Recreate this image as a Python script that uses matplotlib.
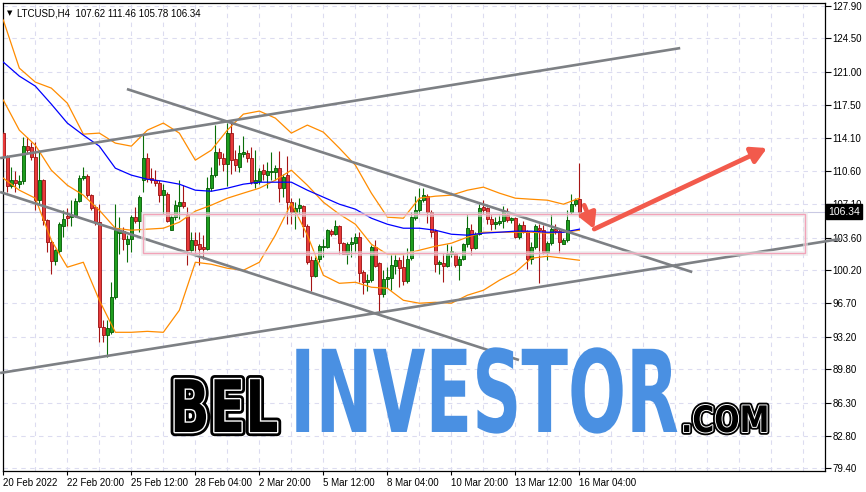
import numpy as np
import matplotlib
matplotlib.use("Agg")
import matplotlib.pyplot as plt
import matplotlib.patheffects as pe
from matplotlib.patches import Rectangle
from matplotlib.transforms import Affine2D, blended_transform_factory

# LTCUSD H4 candles, 20 Feb 04:00 -> 16 Mar 04:00
opens = [114.53, 112.05, 109.00, 109.63, 109.28, 109.53, 113.20, 113.13, 112.01, 107.60,
         109.63, 105.43, 103.15, 101.16, 102.21, 104.87, 105.85, 105.78, 105.96, 107.46,
         109.84, 110.02, 108.06, 106.83, 105.26, 94.23, 93.36, 93.71, 97.38, 104.10,
         104.28, 102.98, 103.47, 105.78, 105.36, 109.63, 111.91, 109.91, 109.63, 109.35,
         108.06, 108.23, 104.45, 105.78, 106.90, 107.36, 105.96, 102.28, 103.40, 102.91,
         102.63, 102.39, 108.76, 110.15, 112.61, 111.91, 111.38, 114.53, 111.80, 111.03,
         112.36, 112.43, 111.91, 109.35, 109.56, 110.75, 110.15, 110.50, 110.50, 110.96,
         108.86, 110.15, 107.36, 106.31, 106.66, 106.90, 104.80, 101.30, 99.55, 101.40,
         102.63, 102.63, 104.31, 104.03, 104.80, 103.05, 101.93, 102.91, 103.05, 103.68,
         100.00, 98.96, 99.13, 102.63, 100.95, 97.73, 99.30, 99.41, 100.60, 101.30,
         100.53, 99.06, 101.50, 105.71, 106.48, 107.53, 107.95, 106.31, 104.31, 100.81,
         100.95, 100.63, 101.93, 101.86, 100.70, 101.40, 102.91, 104.45, 102.56, 104.03,
         106.83, 106.66, 105.60, 105.01, 105.15, 105.36, 105.96, 105.43, 105.64, 103.68,
         104.90, 104.31, 101.40, 102.63, 104.66, 104.45, 102.10, 103.05, 104.56, 104.31,
         102.98, 103.33, 106.31, 107.11, 107.62]
highs = [114.71, 112.25, 111.03, 110.61, 110.15, 114.11, 114.11, 113.66, 113.66, 112.78,
         109.80, 105.60, 103.33, 102.46, 105.26, 106.48, 106.76, 107.53, 107.71, 110.15,
         111.03, 110.26, 108.23, 107.00, 107.18, 94.93, 94.93, 98.96, 107.11, 105.78,
         104.73, 103.86, 105.96, 106.83, 108.06, 114.36, 112.43, 110.86, 110.68, 109.70,
         109.28, 108.40, 105.96, 107.53, 109.63, 109.10, 106.83, 104.20, 104.20, 104.20,
         103.86, 109.98, 111.03, 115.40, 112.96, 112.43, 115.65, 115.86, 112.78, 113.31,
         114.25, 112.78, 113.13, 112.78, 110.86, 111.38, 111.56, 112.61, 111.20, 112.71,
         110.26, 112.15, 107.71, 107.36, 107.81, 107.00, 105.08, 101.65, 101.58, 102.98,
         103.50, 104.56, 104.56, 105.43, 104.90, 103.15, 103.15, 103.68, 104.10, 104.17,
         100.18, 99.83, 102.80, 103.40, 101.05, 100.18, 100.53, 101.86, 102.00, 101.58,
         101.93, 102.56, 106.31, 107.95, 108.76, 108.86, 108.16, 106.48, 104.56, 101.23,
         102.00, 102.98, 102.70, 102.10, 101.65, 103.05, 106.13, 105.01, 104.20, 107.18,
         107.53, 106.83, 106.13, 105.78, 105.96, 106.90, 106.76, 105.78, 105.78, 105.15,
         105.36, 104.38, 103.15, 105.08, 105.08, 104.90, 103.22, 106.06, 105.01, 104.56,
         103.61, 106.48, 108.23, 107.81, 111.46]
lows = [111.91, 108.40, 108.86, 108.40, 108.86, 109.28, 112.43, 111.73, 106.55, 107.18,
        104.90, 102.10, 99.76, 100.70, 102.00, 103.68, 104.80, 104.80, 105.78, 107.36,
        109.63, 107.88, 106.48, 104.90, 92.66, 92.66, 91.08, 93.53, 97.20, 101.93,
        102.28, 101.05, 102.10, 105.15, 104.20, 108.40, 109.46, 109.35, 109.00, 107.36,
        106.13, 105.26, 104.38, 105.50, 105.60, 106.76, 100.70, 101.86, 102.00, 100.70,
        101.40, 102.28, 108.51, 109.98, 111.20, 110.61, 109.00, 110.26, 110.61, 110.50,
        112.08, 111.56, 109.28, 108.86, 109.21, 109.63, 108.86, 109.63, 109.63, 107.36,
        107.88, 105.08, 105.01, 104.56, 106.13, 103.68, 100.88, 98.01, 99.48, 101.05,
        101.58, 102.56, 103.75, 103.86, 101.86, 101.86, 100.81, 101.58, 102.10, 98.96,
        97.73, 98.01, 98.96, 100.53, 95.70, 97.38, 98.36, 98.08, 99.83, 98.43,
        98.60, 98.85, 101.30, 105.50, 106.13, 107.36, 105.15, 103.68, 100.00, 99.76,
        98.96, 100.53, 101.58, 100.53, 99.13, 101.23, 102.63, 101.76, 102.46, 103.86,
        106.13, 105.08, 104.38, 104.56, 104.90, 104.66, 105.26, 105.15, 103.61, 103.50,
        104.10, 100.36, 100.88, 102.46, 98.85, 101.93, 101.23, 102.80, 104.03, 102.00,
        102.91, 103.15, 106.13, 106.90, 105.78]
closes = [112.08, 109.00, 109.63, 109.35, 109.53, 113.20, 112.78, 112.01, 107.60, 109.63,
          105.50, 103.15, 101.16, 102.28, 105.01, 105.57, 105.71, 105.96, 107.46, 109.91,
          110.02, 108.06, 106.76, 105.26, 94.23, 93.36, 94.16, 97.38, 104.38, 104.28,
          103.50, 103.47, 105.78, 105.36, 107.88, 111.91, 109.80, 109.63, 109.35, 108.06,
          108.65, 105.36, 105.78, 107.00, 107.36, 106.90, 102.28, 103.33, 102.80, 102.46,
          102.46, 108.76, 110.15, 112.61, 111.91, 111.38, 114.53, 111.73, 111.20, 112.43,
          112.57, 111.91, 109.46, 109.63, 110.61, 110.26, 110.58, 110.60, 110.96, 108.86,
          109.98, 107.36, 106.31, 106.76, 107.00, 104.80, 101.05, 99.55, 101.30, 102.70,
          102.70, 104.38, 104.03, 104.80, 103.05, 101.93, 102.91, 103.12, 103.68, 99.90,
          98.96, 99.20, 102.63, 100.60, 97.73, 99.30, 99.48, 100.70, 101.30, 100.46,
          99.06, 101.40, 105.78, 106.48, 107.60, 108.06, 106.31, 104.20, 100.81, 101.02,
          100.63, 101.93, 102.21, 100.70, 101.40, 102.91, 104.59, 102.56, 104.03, 106.76,
          106.55, 105.60, 105.01, 105.22, 105.36, 106.31, 105.43, 105.64, 103.68, 104.90,
          104.20, 101.40, 102.63, 104.80, 104.45, 102.10, 103.05, 104.56, 104.31, 103.15,
          103.33, 105.50, 107.11, 107.60, 106.34]

# indicator lines, read every 4th bar
band_idx = list(range(0, 145, 4))
bb_upper = [126.43, 121.39, 119.92, 119.29, 117.71, 114.46, 114.57, 113.52, 113.20, 114.88,
            115.62, 114.57, 111.73, 112.78, 114.88, 116.56, 116.88, 116.14, 114.57, 115.41,
            114.67, 112.99, 111.21, 108.27, 105.75, 105.64, 107.74, 107.95, 108.06, 108.58,
            108.90, 108.27, 107.74, 107.63, 107.53, 107.11, 107.74]
bb_middle = [118.03, 114.88, 113.30, 110.68, 109.10, 108.06, 106.48, 104.59, 104.38, 104.49,
             104.59, 105.22, 106.38, 107.01, 107.74, 108.27, 108.79, 109.63, 110.68, 109.10,
             107.32, 106.06, 105.01, 102.91, 101.86, 101.86, 102.28, 102.70, 103.02, 103.65,
             104.17, 104.17, 104.17, 104.17, 104.07, 104.17, 104.38]
bb_lower = [109.84, 108.58, 107.74, 103.33, 100.50, 101.02, 97.03, 93.67, 93.67, 93.77,
            93.67, 95.98, 101.02, 100.81, 100.39, 100.18, 101.02, 103.86, 107.22, 103.86,
            99.65, 98.81, 98.92, 98.40, 98.29, 97.03, 96.72, 96.82, 96.72, 97.56,
            98.08, 99.13, 99.97, 101.44, 101.65, 101.44, 101.23]
ma_slow = [122.02, 120.55, 119.50, 117.61, 115.62, 114.36, 113.20, 110.89, 110.16, 109.73,
           109.52, 109.21, 108.58, 108.47, 108.79, 109.21, 109.42, 109.42, 109.42, 108.58,
           107.85, 107.11, 106.59, 105.64, 105.01, 104.59, 104.59, 104.38, 103.96, 103.86,
           104.07, 104.17, 104.28, 104.28, 104.17, 104.17, 104.49]

price_ticks = [127.90, 124.50, 121.00, 117.50, 114.10, 110.60, 107.10, 103.60, 100.20,
               96.70, 93.20, 89.80, 86.30, 82.80, 79.40]
date_idx = [0, 16, 32, 48, 64, 80, 96, 112, 128, 144]
date_labels = ["20 Feb 2022", "22 Feb 20:00", "25 Feb 12:00", "28 Feb 04:00", "2 Mar 20:00",
               "5 Mar 12:00", "8 Mar 04:00", "10 Mar 20:00", "13 Mar 12:00", "16 Mar 04:00"]
last_price = 106.34

# hand drawn objects (bar index, price)
trend_up_top = [(-0.8, 111.95), (169.2, 123.49)]
trend_down_top = [(30.9, 119.19), (172.2, 99.99)]
trend_down_low = [(-0.8, 108.39), (128.9, 90.76)]
trend_up_low = [(-0.8, 89.40), (209.2, 103.46)]
zone = (34.9, 200.4, 101.99, 106.08)
arrow_from = (147.7, 104.5)
arrow_to = (190.9, 113.0)


class Stretch(pe.AbstractPathEffect):
    """draw text stretched vertically (about the baseline), with optional outlines"""

    def __init__(self, sy, strokes=()):
        super().__init__()
        self.sy = sy
        self.strokes = strokes

    def draw_path(self, renderer, gc, tpath, affine, rgbFace=None):
        aff = Affine2D().scale(1.0, self.sy) + affine
        for lw, col in self.strokes:
            gc0 = renderer.new_gc()
            gc0.copy_properties(gc)
            gc0.set_linewidth(lw)
            gc0.set_foreground(col)
            gc0.set_joinstyle("round")
            renderer.draw_path(gc0, tpath, aff, None)
            gc0.restore()
        renderer.draw_path(gc, tpath, aff, rgbFace)


fig = plt.figure(figsize=(8.66, 4.92), dpi=100)
ax = fig.add_axes([0.0029, 0.0433, 0.9498, 0.9512])
ax.set_xlim(-0.2, 205.4)
ax.set_ylim(79.15, 128.25)

grid_kw = dict(color="#dcdcf0", lw=0.8, ls=(0, (4, 4)), zorder=0)
for p in price_ticks:
    ax.axhline(p, **grid_kw)
for gx in range(0, 205, 8):
    ax.axvline(gx, **grid_kw)

o = np.array(opens)
h = np.array(highs)
l = np.array(lows)
c = np.array(closes)
x = np.arange(len(c))
up = c >= o
dn = ~up
ax.vlines(x[up], l[up], h[up], color="#0a6e0a", lw=0.8, zorder=3)
ax.vlines(x[dn], l[dn], h[dn], color="#a51515", lw=0.8, zorder=3)
ax.bar(x[up], np.maximum(c[up] - o[up], 0.06), bottom=o[up], width=0.72,
       color="#1e9e1e", edgecolor="#005a00", lw=0.6, zorder=3)
ax.bar(x[dn], np.maximum(o[dn] - c[dn], 0.06), bottom=c[dn], width=0.72,
       color="#e83a3a", edgecolor="#9a1010", lw=0.6, zorder=3)

ax.plot(band_idx, bb_upper, color="#ff8c00", lw=0.9, zorder=4)
ax.plot(band_idx, bb_middle, color="#ff8c00", lw=0.9, zorder=4)
ax.plot(band_idx, bb_lower, color="#ff8c00", lw=0.9, zorder=4)
ax.plot(band_idx, ma_slow, color="#0000ff", lw=0.9, zorder=4)

for line in [trend_up_top, trend_down_top, trend_down_low, trend_up_low]:
    xs, ys = zip(*line)
    ax.plot(xs, ys, color="#7d8084", lw=1.9, zorder=5, clip_on=False,
            solid_capstyle="butt")

ax.axhline(last_price, color="#c9c9e3", lw=0.8, zorder=2)

zx0, zx1, zy0, zy1 = zone
ax.add_patch(Rectangle((zx0, zy0), zx1 - zx0, zy1 - zy0, fill=False,
                       edgecolor="#e6e6e6", lw=3.5, alpha=0.6, zorder=5))
ax.add_patch(Rectangle((zx0, zy0), zx1 - zx0, zy1 - zy0, fill=False,
                       edgecolor="#f2a3b8", lw=1.0, zorder=5))

ax.annotate("", xy=arrow_to, xytext=arrow_from,
            arrowprops=dict(arrowstyle="-|>,head_length=0.9,head_width=0.5",
                            color="#f25a4c", lw=3.4, shrinkA=0, shrinkB=0),
            zorder=7)
ax.annotate("", xy=arrow_from, xytext=(145.2, 107.0),
            arrowprops=dict(arrowstyle="-|>,head_length=0.9,head_width=0.5",
                            color="#f25a4c", lw=3.4, shrinkA=0, shrinkB=0),
            zorder=7)

for side in ["left", "right", "top", "bottom"]:
    ax.spines[side].set_color("black")
    ax.spines[side].set_linewidth(0.9)

ax.yaxis.tick_right()
ax.set_yticks(price_ticks)
ax.set_yticklabels([f"{p:.2f}" for p in price_ticks])
ax.set_xticks(date_idx)
ax.set_xticklabels(date_labels, ha="left")
ax.tick_params(axis="y", direction="out", length=4, width=0.8, pad=1.5,
               labelsize=7, labelfontfamily="Liberation Sans")
ax.tick_params(axis="x", direction="out", length=3, width=0.8, pad=2,
               labelsize=7, labelfontfamily="Liberation Sans")

tr = blended_transform_factory(ax.transAxes, ax.transData)
ax.text(1.004, last_price, "106.34", transform=tr, va="center", ha="left",
        color="white", fontsize=7.5, family="Liberation Sans", clip_on=False, zorder=10,
        bbox=dict(facecolor="black", edgecolor="black", boxstyle="square,pad=0.2"))

ax.text(0.006, 0.985, "\u25bc", transform=ax.transAxes, va="top", ha="left",
        fontsize=5, family="DejaVu Sans")
ax.text(0.0175, 0.988, "LTCUSD,H4  107.62 111.46 105.78 106.34", transform=ax.transAxes,
        va="top", ha="left", fontsize=7, family="Liberation Sans")

# watermark
fig.text(170 / 866, 1 - 432 / 492, "BEL", fontsize=37.5, weight="bold", family="DejaVu Sans",
         color="black", ha="left", va="baseline", zorder=20,
         path_effects=[Stretch(1.39, strokes=[(6, "black"), (2.0, "white")])])
fig.text(290 / 866, 1 - 432 / 492, "INVESTOR", fontsize=49.2, weight="bold",
         family="DejaVu Sans", color="#4a90e2", ha="left", va="baseline", zorder=20,
         path_effects=[Stretch(1.67)])
fig.text(681 / 866, 1 - 432 / 492, ".COM", fontsize=21.5, weight="bold", family="DejaVu Sans",
         color="black", ha="left", va="baseline", zorder=20,
         path_effects=[Stretch(1.22, strokes=[(4, "black"), (1.4, "white")])])

fig.savefig("out.png", dpi=100)
